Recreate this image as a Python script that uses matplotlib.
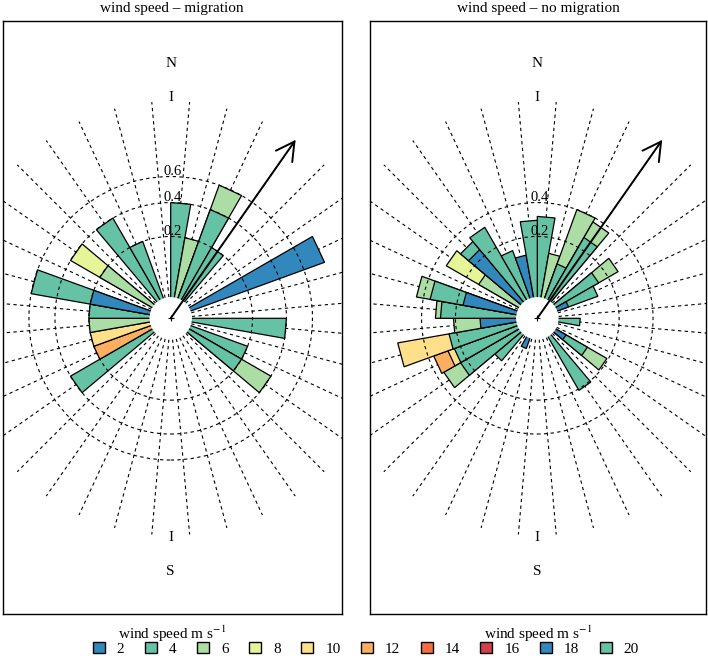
import numpy as np
import matplotlib
matplotlib.use('Agg')
import matplotlib.pyplot as plt
from matplotlib.patches import Polygon, Circle, Patch

plt.rcParams['font.family'] = ['Liberation Serif', 'DejaVu Serif']
plt.rcParams['mathtext.fontset'] = 'stix'

speeds = [2, 4, 6, 8, 10, 12, 14, 16, 18, 20]
speed_cols = ['#3288BD', '#66C2A5', '#ABDDA4', '#E6F598', '#FEE08B',
              '#FDAE61', '#F46D43', '#D53E4F', '#3288BD', '#66C2A5']

# bin start (deg clockwise from N, 10 deg bins), speed class, cumulative proportion
mig_dir   = [0,   10,  20,  20,  30,  60,  90,  110, 120, 120, 230, 240, 250, 260, 270, 280, 280, 300, 300, 320, 330]
mig_speed = [4,   6,   4,   6,   4,   2,   4,   4,   4,   6,   4,   12,  10,  6,   4,   2,   4,   6,   8,   4,   4]
mig_top   = [0.4, 0.2, 0.4, 0.6, 0.2, 0.8, 0.4, 0.2, 0.2, 0.4, 0.4, 0.2, 0.2, 0.2, 0.2, 0.2, 0.6, 0.2, 0.4, 0.4, 0.2]

nomig_dir   = [0,    10,   20,   20,   30,   30,   50,   50,   60,    60,    90,    120,   120,  120,   140,   200,   220,   230,   230,
               240,   240,  240,   250,  250,  260,   260,  270,  270,  280,  280,   280,  300,   300,  310,  310,  320,  330,   340,   350]
nomig_speed = [4,    6,    4,    6,    4,    6,    4,    6,    2,     4,     4,     2,     4,    6,     4,     2,     4,     4,     6,
               4,     10,   12,    4,    10,   2,     6,    4,    6,    2,    4,     6,    6,     8,    2,    4,    4,    4,     2,     4]
nomig_top   = [0.31, 0.13, 0.10, 0.40, 0.26, 0.37, 0.15, 0.26, 0.033, 0.124, 0.055, 0.033, 0.10, 0.193, 0.207, 0.031, 0.092, 0.235, 0.348,
               0.233, 0.27, 0.363, 0.24, 0.60, 0.098, 0.21, 0.28, 0.31, 0.17, 0.354, 0.45, 0.137, 0.33, 0.24, 0.30, 0.33, 0.155, 0.123, 0.287]

mig_rings = [0.2, 0.4, 0.6]
nomig_rings = [0.2, 0.4]
mean_dir = 35.0
binw = 10.0

W, H = 708, 660
fig = plt.figure(figsize=(W / 100, H / 100), dpi=100)

S = 183.0  # pixels per unit of sqrt(proportion)
FS = 11


def rose(ax, dirs, spd, tops, rings, title):
    dirs = np.array(dirs, float)
    tops = np.array(tops, float)
    # spokes
    for a in np.arange(5, 360, 10):
        t = np.radians(a)
        ax.plot([0.116 * np.sin(t), 1.186 * np.sin(t)], [0.116 * np.cos(t), 1.186 * np.cos(t)],
                color='k', lw=0.8, ls=(0, (3, 3)), zorder=1)
    # bars: triangles from the centre, biggest first
    order = np.lexsort((-tops, dirs))
    for i in order:
        r = np.sqrt(tops[i])
        a1, a2 = np.radians(dirs[i]), np.radians(dirs[i] + binw)
        pts = [(0, 0), (r * np.sin(a1), r * np.cos(a1)), (r * np.sin(a2), r * np.cos(a2))]
        ax.add_patch(Polygon(pts, closed=True, fc=speed_cols[speeds.index(spd[i])],
                             ec='k', lw=0.9, zorder=2))
    ax.add_patch(Circle((0, 0), 0.116, fc='white', ec='none', zorder=3))
    for v in rings:
        ax.add_patch(Circle((0, 0), np.sqrt(v), fill=False, ec='k', lw=0.8, ls=(0, (3, 3)), zorder=4))
        ax.text(0.01, np.sqrt(v) - 0.008, str(v), ha='center', va='bottom', fontsize=10.5, zorder=5)
    t = np.radians(mean_dir)
    ax.annotate('', xy=(1.19 * np.sin(t), 1.19 * np.cos(t)), xytext=(0, 0),
                arrowprops=dict(arrowstyle='->,head_length=1.0,head_width=0.55', lw=1.4,
                                color='k', mutation_scale=13, shrinkA=0, shrinkB=0), zorder=6)
    ax.plot(0, 0, marker='+', ms=5, mew=0.8, color='k', zorder=6)
    ax.text(0, 1.393, 'N', ha='center', va='center', fontsize=FS)
    ax.text(0, 1.208, 'I', ha='center', va='center', fontsize=FS)
    ax.text(0, -1.197, 'I', ha='center', va='center', fontsize=FS)
    ax.text(0, -1.383, 'S', ha='center', va='center', fontsize=FS)
    ax.set_title(title, fontsize=FS, pad=6.5)
    ax.set_xticks([])
    ax.set_yticks([])
    for s in ax.spines.values():
        s.set_linewidth(1.0)


ax1 = fig.add_axes([2.7 / W, (H - 614) / H, 338.9 / W, 593.3 / H])
ax1.set_xlim((2.7 - 170.7) / S, (341.6 - 170.7) / S)
ax1.set_ylim((318.3 - 614) / S, (318.3 - 20.7) / S)
rose(ax1, mig_dir, mig_speed, mig_top, mig_rings, 'wind speed \u2013 migration')

ax2 = fig.add_axes([370 / W, (H - 614) / H, 336 / W, 593.3 / H])
ax2.set_xlim((370 - 537.3) / S, (706 - 537.3) / S)
ax2.set_ylim((318.3 - 614) / S, (318.3 - 20.7) / S)
rose(ax2, nomig_dir, nomig_speed, nomig_top, nomig_rings, 'wind speed \u2013 no migration')

fig.text(172 / W, 1 - 639 / H, 'wind speed m s$^{-1}$', ha='center', va='baseline', fontsize=FS)
fig.text(538 / W, 1 - 639 / H, 'wind speed m s$^{-1}$', ha='center', va='baseline', fontsize=FS)

handles = [Patch(fc=c, ec='k', lw=1.0) for c in speed_cols]
fig.legend(handles, [str(s) for s in speeds], ncol=10, loc='center',
           bbox_to_anchor=(366 / W, 1 - 649 / H), frameon=False, fontsize=FS,
           handlelength=0.78, handleheight=0.78, handletextpad=0.78, columnspacing=1.35,
           borderpad=0, borderaxespad=0)

fig.savefig('out.png', dpi=100)
